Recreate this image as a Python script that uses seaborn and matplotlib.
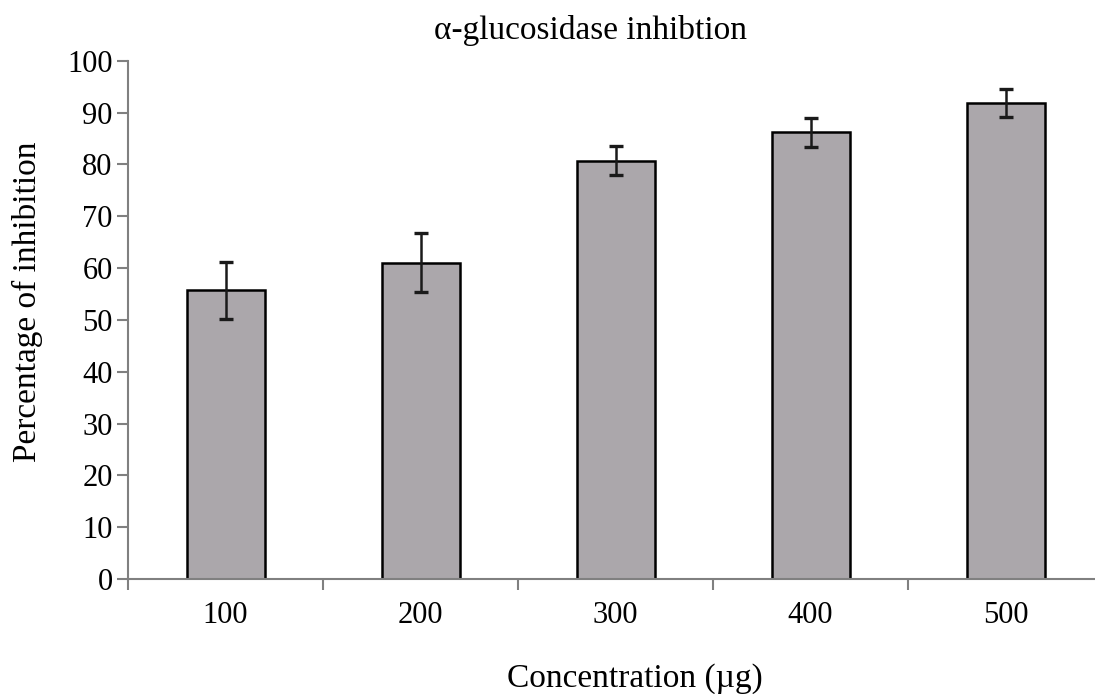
import matplotlib
matplotlib.use("Agg")
import matplotlib.pyplot as plt
import seaborn as sns
import pandas as pd
import numpy as np

categories = ["100", "200", "300", "400", "500"]
values = [55.7, 61.0, 80.7, 86.2, 91.8]
errors = [5.5, 5.7, 2.8, 2.8, 2.75]
y_ticks = [0, 10, 20, 30, 40, 50, 60, 70, 80, 90, 100]

sns.set_theme(style="white")
plt.rcParams['font.family'] = ['Liberation Serif', 'DejaVu Serif']
plt.rcParams['text.color'] = 'black'
plt.rcParams['xtick.labelcolor'] = 'black'
plt.rcParams['ytick.labelcolor'] = 'black'

df = pd.DataFrame({"conc": categories, "val": values})

W, H = 1095, 694
fig = plt.figure(figsize=(W / 100, H / 100), dpi=100)
ax = fig.add_axes([128 / W, (H - 579) / H, 975 / W, (579 - 60.7) / H])

sns.barplot(data=df, x="conc", y="val", ax=ax, color="#aba7ab", saturation=1,
            width=0.4, edgecolor="black", linewidth=1.8, errorbar=None)
ax.errorbar(np.arange(len(categories)), values, yerr=errors, fmt="none",
            ecolor="#1a1a1a", elinewidth=1.8, capsize=5, capthick=2.4, zorder=5)

ax.set_xlim(-0.5, 4.5)
ax.set_ylim(0, 100)
ax.set_yticks(y_ticks)
ax.set_xticks(np.arange(-0.5, 5.0, 1.0), minor=True)
ax.tick_params(axis="x", which="major", length=0, labelsize=22, pad=16, labelcolor="black")
ax.tick_params(axis="x", which="minor", length=8, width=1.5, color="#808080", direction="out", bottom=True)
ax.tick_params(axis="y", length=8, width=1.5, color="#808080", direction="out", left=True,
               labelsize=22, pad=3, labelcolor="black")
for s in ["top", "right"]:
    ax.spines[s].set_visible(False)
for s in ["left", "bottom"]:
    ax.spines[s].set_color("#808080")
    ax.spines[s].set_linewidth(1.5)

ax.set_xlabel("")
ax.set_ylabel("")
fig.text(635 / W, 1 - 679 / H, "Concentration (µg)", fontsize=24, ha="center", va="center", color="black")
fig.text(27 / W, 1 - 302 / H, "Percentage of inhibition", fontsize=24, ha="center", va="center",
         rotation=90, color="black")
fig.text(590 / W, 1 - 30 / H, "α-glucosidase inhibtion", fontsize=24, ha="center", va="center", color="black")

fig.savefig("out.png", dpi=100)
